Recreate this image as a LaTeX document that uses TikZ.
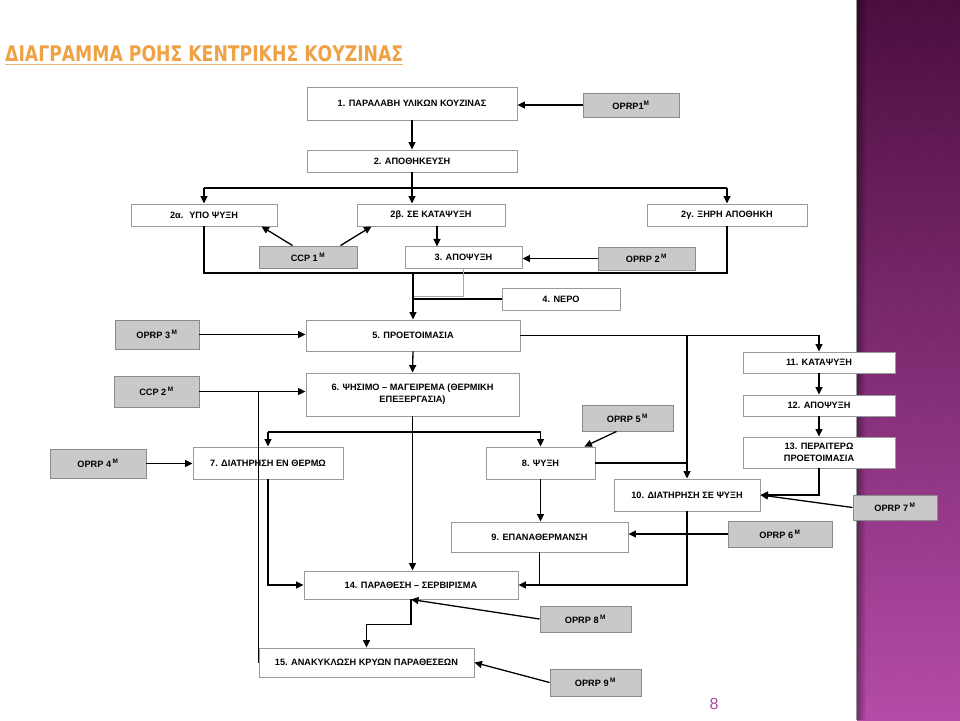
\documentclass[tikz,border=0pt]{standalone}
\usepackage{fontspec}
\setmainfont{Liberation Sans}
\newfontfamily\titlefont{DejaVu Sans}
\usetikzlibrary{arrows.meta,fadings,calc}
\definecolor{boxline}{HTML}{9A9A9A}
\definecolor{gboxline}{HTML}{8A8A8A}
\definecolor{greyfill}{HTML}{C9C9C9}
\definecolor{titleor}{HTML}{EFA245}
\definecolor{titleul}{HTML}{E9B57A}
\definecolor{stripTop}{HTML}{4B0D3E}
\definecolor{stripMid}{HTML}{7B2A70}
\definecolor{stripBot}{HTML}{B44BA8}
\definecolor{pnum}{HTML}{B04AA6}
\definecolor{greyconn}{HTML}{A8A8A8}
\newcommand\mybox[7]{\node[#1,minimum width={#4pt-#2pt},minimum height={#5pt-#3pt}] (#6) at ({(#2+#4)/2},{(#3+#5)/2}) {#7};}
\begin{document}
\begin{tikzpicture}[x=1pt,y=-1pt,
  box/.style={draw=boxline,line width=0.9pt,fill=white,inner sep=0pt,
    font=\bfseries\fontsize{9.2}{12}\selectfont,align=center},
  gbox/.style={box,draw=gboxline,fill=greyfill},
  conn/.style={line width=1.3pt,black},
  arr/.style={conn,-{Triangle[length=7.5pt,width=7pt]}},
  gconn/.style={line width=1pt,greyconn}]
\useasboundingbox (0,0) rectangle (960,720);
\fill[white] (0,0) rectangle (960,720);
% purple strip
\shade[top color=stripTop,middle color=stripMid,bottom color=stripBot] (857,0) rectangle (960,720);
\begin{scope}
\clip (857,0) rectangle (960,720);
\foreach \k in {137,167,...,990} {
  \draw[white,opacity=0.025,line width=0.7pt] (\k,0) -- ++(720,720);
  \draw[white,opacity=0.025,line width=0.7pt] (\k,720) -- ++(720,-720);
}
\end{scope}
\fill[black,path fading=east,fill opacity=0.4] (856,0) rectangle (866,720);
% title
\node[anchor=west,inner sep=0pt,text=titleor] (title) at (5,53.5)
  {\resizebox{398pt}{16pt}{\titlefont\bfseries ΔΙΑΓΡΑΜΜΑ ΡΟΗΣ ΚΕΝΤΡΙΚΗΣ ΚΟΥΖΙΝΑΣ}};
\draw[titleul,line width=1.6pt] ([yshift=-2.5pt]title.south west) -- ([yshift=-2.5pt]title.south east);
% boxes
\mybox{box}{307}{87}{517}{120}{b1}{1. ΠΑΡΑΛΑΒΗ ΥΛΙΚΩΝ ΚΟΥΖΙΝΑΣ}
\mybox{gbox}{583}{93}{679}{117}{op1}{OPRP1\textsuperscript{M}}
\mybox{box}{307}{150}{517}{172}{b2}{2. ΑΠΟΘΗΚΕΥΣΗ}
\mybox{box}{131}{204}{277}{226}{b2a}{2α.~ ΥΠΟ ΨΥΞΗ}
\mybox{box}{357}{204}{505}{226}{b2b}{2β. ΣΕ ΚΑΤΑΨΥΞΗ}
\mybox{box}{647}{204}{807}{226}{b2c}{2γ. ΞΗΡΗ ΑΠΟΘΗΚΗ}
\mybox{gbox}{259}{246}{357}{268}{ccp1}{CCP 1\,\textsuperscript{M}}
\mybox{box}{405}{246}{522}{268}{b3}{3. ΑΠΟΨΥΞΗ}
\mybox{gbox}{598}{247}{695}{270}{op2}{OPRP 2\,\textsuperscript{M}}
\mybox{box}{502}{288}{620}{310}{b4}{4. ΝΕΡΟ}
\mybox{gbox}{115}{320}{199}{349}{op3}{OPRP 3\,\textsuperscript{M}}
\mybox{box}{306}{320}{520}{351}{b5}{5. ΠΡΟΕΤΟΙΜΑΣΙΑ}
\mybox{box}{743}{352}{895}{373}{b11}{11. ΚΑΤΑΨΥΞΗ}
\mybox{gbox}{114}{376}{199}{407}{ccp2}{CCP 2\,\textsuperscript{M}}
\mybox{box}{306}{373}{519}{416}{b6}{6. ΨΗΣΙΜΟ – ΜΑΓΕΙΡΕΜΑ (ΘΕΡΜΙΚΗ\\ΕΠΕΞΕΡΓΑΣΙΑ)}
\mybox{box}{743}{395}{895}{416}{b12}{12. ΑΠΟΨΥΞΗ}
\mybox{gbox}{582}{405}{673}{431}{op5}{OPRP 5\,\textsuperscript{M}}
\mybox{box}{743}{437}{895}{468}{b13}{13. ΠΕΡΑΙΤΕΡΩ\\ΠΡΟΕΤΟΙΜΑΣΙΑ}
\mybox{gbox}{50}{449}{146}{478}{op4}{OPRP 4\,\textsuperscript{M}}
\mybox{box}{193}{447}{343}{479}{b7}{7. ΔΙΑΤΗΡΗΣΗ ΕΝ ΘΕΡΜΩ}
\mybox{box}{486}{447}{595}{479}{b8}{8. ΨΥΞΗ}
\mybox{box}{614}{479}{760}{511}{b10}{10. ΔΙΑΤΗΡΗΣΗ ΣΕ ΨΥΞΗ}
\mybox{gbox}{853}{495}{937}{520}{op7}{OPRP 7\,\textsuperscript{M}}
\mybox{box}{451}{522}{628}{552}{b9}{9. ΕΠΑΝΑΘΕΡΜΑΝΣΗ}
\mybox{gbox}{728}{521}{832}{547}{op6}{OPRP 6\,\textsuperscript{M}}
\mybox{box}{304}{571}{518}{599}{b14}{14. ΠΑΡΑΘΕΣΗ – ΣΕΡΒΙΡΙΣΜΑ}
\mybox{gbox}{540}{606}{631}{632}{op8}{OPRP 8\,\textsuperscript{M}}
\mybox{box}{259}{648}{474}{677}{b15}{15. ΑΝΑΚΥΚΛΩΣΗ ΚΡΥΩΝ ΠΑΡΑΘΕΣΕΩΝ}
\mybox{gbox}{550}{669}{641}{696}{op9}{OPRP 9\,\textsuperscript{M}}
% row coordinates
\coordinate (yA) at (0,188);
\coordinate (yB) at (0,273);
\coordinate (yC) at (0,296);
\coordinate (yD) at (0,432);
% connectors
\draw[arr] (op1.west) -- (op1.west -| b1.east);
\draw[arr] (b1.south) -- (b2.north);
\draw[arr] (b2.south) -- (b2.south |- b2b.north);
\draw[conn] (b2a.north |- yA) -- (b2c.north |- yA);
\draw[arr] (b2a.north |- yA) -- (b2a.north);
\draw[arr] (b2c.north |- yA) -- (b2c.north);
\draw[arr] ($(ccp1.north west)+(34,0)$) -- ($(b2a.south east)+(-16,0)$);
\draw[arr] ($(ccp1.north east)+(-17,0)$) -- ($(b2b.south west)+(15,0)$);
\draw[arr] ([xshift=6pt]b2b.south) -- ++(0,20);
\draw[arr] (op2.west) -- (op2.west -| b3.east);
\draw[conn] (b2a.south) -- (b2a.south |- yB) -- (b2c.south |- yB) -- (b2c.south);
\draw[gconn] (b3.south) -- (b3.south |- yC) -- (b5.north |- yC);
\draw[arr] (b5.north |- yB) -- (b5.north);
\draw[conn] (b4.west) -- (b4.west -| b5.north);
\draw[arr] (op3.east) -- (op3.east -| b5.west);
\draw[arr] (b5.east) -| (b11.north);
\draw[arr] (b5.east -| b10.north) -- (b10.north);
\draw[arr] (b11.south) -- (b12.north);
\draw[arr] (b12.south) -- (b13.north);
\draw[arr] (b13.south) |- (b10.east);
\draw[arr] (op7.west) -- (b10.east);
\draw[arr] ($(op5.south west)+(35,0)$) -- ($(b8.north east)+(-11,0)$);
\draw[conn] (b8.east) -- (b8.east -| b10.north);
\draw[arr] (b5.south) -- (b6.north);
\draw[arr] (ccp2.east) -- (ccp2.east -| b6.west);
\draw[conn] (b7.north |- yD) -- (b8.north |- yD);
\draw[arr] (b7.north |- yD) -- (b7.north);
\draw[arr] (b8.north |- yD) -- (b8.north);
\draw[arr] (b6.south) -- (b6.south |- b14.north);
\draw[arr] (op4.east) -- (op4.east -| b7.west);
\draw[conn] (b15.north west |- ccp2.east) -- (b15.west);
\draw[arr] (b7.south) |- (b14.west);
\draw[arr] (b8.south) -- (b8.south |- b9.north);
\draw[conn] (b9.south) -- (b9.south |- b14.east);
\draw[arr] (b10.south) |- (b14.east);
\draw[arr] (op6.west) -- (op6.west -| b9.east);
\draw[arr] (op8.west) -- (b14.south);
\draw[arr] (b14.south) -- ++(0,25) -| (b15.north);
\draw[arr] (op9.west) -- (b15.east);
% page number
\node[text=pnum,font=\fontsize{16}{16}\selectfont,inner sep=0pt] (pg) at (714,704) {8};
\end{tikzpicture}
\end{document}
